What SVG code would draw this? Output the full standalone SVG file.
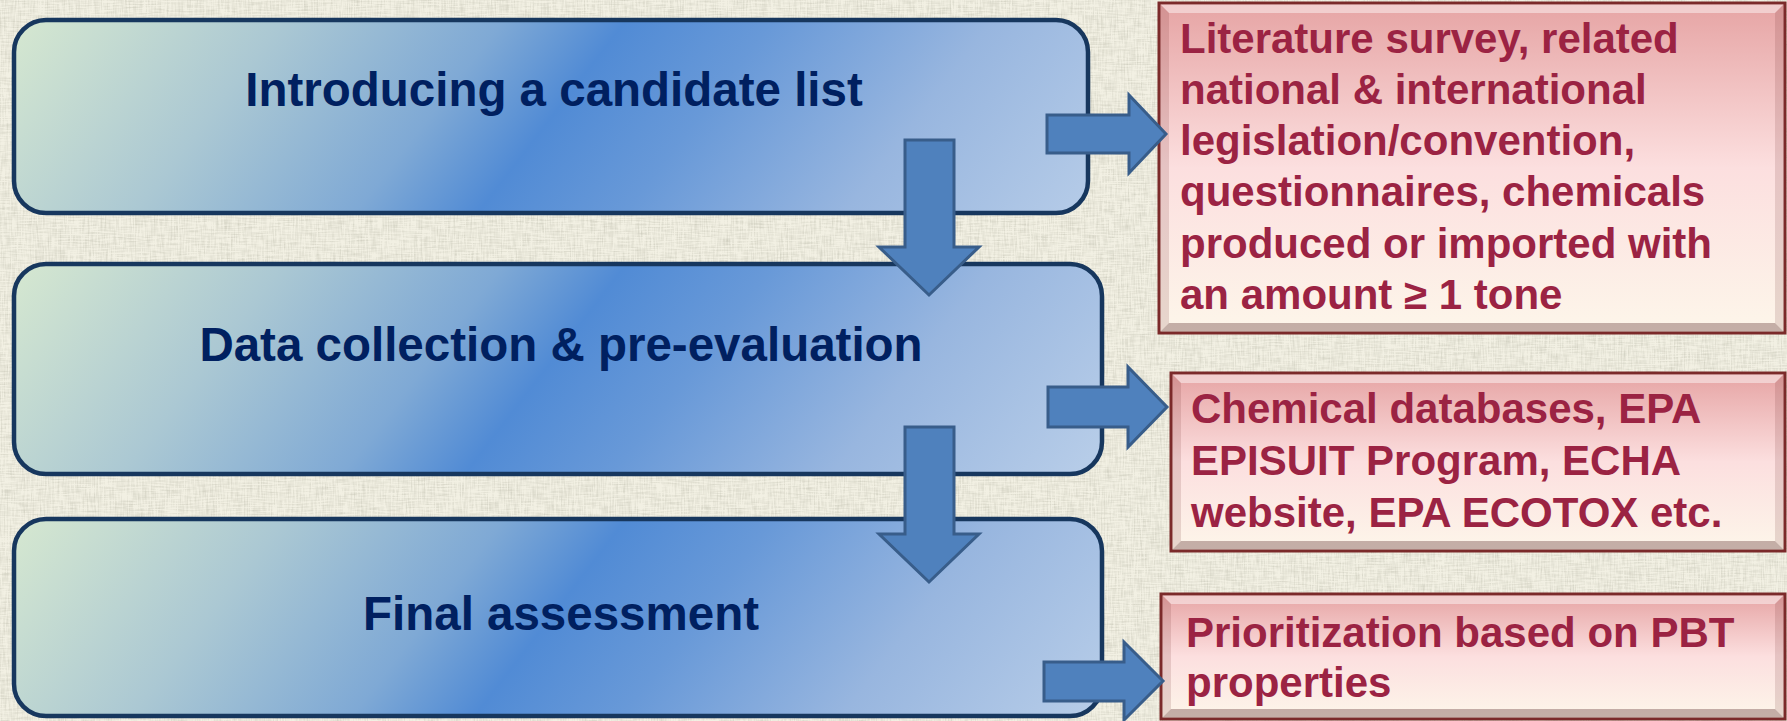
<svg xmlns="http://www.w3.org/2000/svg" width="1787" height="721" viewBox="0 0 1787 721">
  <defs>
    <style>
      .step { stroke: #17375e; stroke-width: 4.5; }
      .step-label { font-family: "Liberation Sans", Arial, sans-serif; font-weight: bold; font-size: 47.5px; fill: #002060; text-anchor: middle; }
      .note-box { stroke: #7b2a2a; stroke-width: 3; }
      .note-text { font-family: "Liberation Sans", Arial, sans-serif; font-weight: bold; font-size: 42px; fill: #9b2343; }
      .arrow { fill: #4f81bd; stroke: #385d8a; stroke-width: 3; stroke-linejoin: miter; }
      .bevel-top { fill: #ffffff; opacity: 0.45; }
      .bevel-bottom { fill: #5a2a2a; opacity: 0.35; }
      .bevel-side { fill: #6a2a2a; opacity: 0.15; }
    </style>

    <!-- linen-like background weave -->
    <filter id="linen" x="0" y="0" width="100%" height="100%" color-interpolation-filters="sRGB">
      <feTurbulence type="fractalNoise" baseFrequency="0.7 0.06" numOctaves="2" seed="3" result="n1"/>
      <feTurbulence type="fractalNoise" baseFrequency="0.06 0.7" numOctaves="2" seed="11" result="n2"/>
      <feComposite in="n1" in2="n2" operator="arithmetic" k2="0.5" k3="0.5" result="n"/>
      <feColorMatrix in="n" type="matrix" values="0 0 0 0 0.62  0 0 0 0 0.62  0 0 0 0 0.55  0.9 0 0 0 -0.36" result="tint"/>
      <feComposite in="tint" in2="SourceGraphic" operator="over"/>
    </filter>

    <!-- step box fill: pale green-grey to a broad strong-blue band to light blue -->
    <linearGradient id="stepFill1" gradientUnits="userSpaceOnUse" x1="14" y1="20" x2="783" y2="612">
      <stop offset="0" stop-color="#d6e8d0"/>
      <stop offset="0.22" stop-color="#abc8d3"/>
      <stop offset="0.4" stop-color="#7fa9d5"/>
      <stop offset="0.5" stop-color="#518bd5"/>
      <stop offset="0.62" stop-color="#6899d8"/>
      <stop offset="0.8" stop-color="#98b6df"/>
      <stop offset="1" stop-color="#b6cce8"/>
    </linearGradient>
    <linearGradient id="stepFill2" href="#stepFill1" gradientTransform="translate(0,244)"/>
    <linearGradient id="stepFill3" href="#stepFill1" gradientTransform="translate(0,499)"/>

    <!-- note box fill: rose at top fading to cream -->
    <linearGradient id="noteFill" x1="0" y1="0" x2="0" y2="1">
      <stop offset="0" stop-color="#e6a4a4"/>
      <stop offset="0.5" stop-color="#fcdfdf"/>
      <stop offset="1" stop-color="#fdf6ea"/>
    </linearGradient>
  </defs>

  <!-- background -->
  <rect x="0" y="0" width="1787" height="721" fill="#f2f0e3" filter="url(#linen)"/>

  <!-- process steps -->
  <g id="step-introducing">
    <rect class="step" x="14" y="20" width="1074" height="193" rx="32" ry="32" fill="url(#stepFill1)"/>
    <text class="step-label" x="554" y="106">Introducing a candidate list</text>
  </g>
  <g id="step-data-collection">
    <rect class="step" x="14" y="264" width="1088" height="210" rx="32" ry="32" fill="url(#stepFill2)"/>
    <text class="step-label" x="561" y="361">Data collection &amp; pre-evaluation</text>
  </g>
  <g id="step-final">
    <rect class="step" x="14" y="519" width="1088" height="197" rx="32" ry="32" fill="url(#stepFill3)"/>
    <text class="step-label" x="561" y="630">Final assessment</text>
  </g>

  <!-- source notes -->
  <g id="note-literature">
    <rect class="note-box" x="1159" y="3" width="626" height="330" fill="url(#noteFill)"/>
    <polygon class="bevel-top" points="1160.5,4.5 1783.5,4.5 1775,13 1169,13"/>
    <polygon class="bevel-bottom" points="1160.5,331.5 1783.5,331.5 1775,323 1169,323"/>
    <polygon class="bevel-side" points="1160.5,4.5 1169,13 1169,323 1160.5,331.5"/>
    <polygon class="bevel-side" points="1783.5,4.5 1775,13 1775,323 1783.5,331.5"/>
    <text class="note-text">
      <tspan x="1180" y="53">Literature survey, related</tspan>
      <tspan x="1180" y="104">national &amp; international</tspan>
      <tspan x="1180" y="155">legislation/convention,</tspan>
      <tspan x="1180" y="206">questionnaires, chemicals</tspan>
      <tspan x="1180" y="258">produced or imported with</tspan>
      <tspan x="1180" y="309">an amount ≥ 1 tone</tspan>
    </text>
  </g>
  <g id="note-databases">
    <rect class="note-box" x="1171" y="373" width="614" height="178" fill="url(#noteFill)"/>
    <polygon class="bevel-top" points="1172.5,374.5 1783.5,374.5 1775,383 1181,383"/>
    <polygon class="bevel-bottom" points="1172.5,549.5 1783.5,549.5 1775,541 1181,541"/>
    <polygon class="bevel-side" points="1172.5,374.5 1181,383 1181,541 1172.5,549.5"/>
    <polygon class="bevel-side" points="1783.5,374.5 1775,383 1775,541 1783.5,549.5"/>
    <text class="note-text">
      <tspan x="1191" y="423">Chemical databases, EPA</tspan>
      <tspan x="1191" y="475">EPISUIT Program, ECHA</tspan>
      <tspan x="1191" y="527">website, EPA ECOTOX etc.</tspan>
    </text>
  </g>
  <g id="note-prioritization">
    <rect class="note-box" x="1161" y="594" width="624" height="125" fill="url(#noteFill)"/>
    <polygon class="bevel-top" points="1162.5,595.5 1783.5,595.5 1775,604 1171,604"/>
    <polygon class="bevel-bottom" points="1162.5,717.5 1783.5,717.5 1775,709 1171,709"/>
    <polygon class="bevel-side" points="1162.5,595.5 1171,604 1171,709 1162.5,717.5"/>
    <polygon class="bevel-side" points="1783.5,595.5 1775,604 1775,709 1783.5,717.5"/>
    <text class="note-text">
      <tspan x="1186" y="647">Prioritization based on PBT</tspan>
      <tspan x="1186" y="697">properties</tspan>
    </text>
  </g>

  <!-- connectors -->
  <g id="connectors">
    <polygon class="arrow" points="905,140 954,140 954,247 979,247 929,295 879,247 905,247"/>
    <polygon class="arrow" points="905,427 954,427 954,534 979,534 929,582 879,534 905,534"/>
    <polygon class="arrow" points="1047,115 1129,115 1129,95 1166,134 1129,173 1129,153 1047,153"/>
    <polygon class="arrow" points="1048,387 1128,387 1128,367 1167,407 1128,447 1128,427 1048,427"/>
    <polygon class="arrow" points="1044,662 1124,662 1124,642 1163,681 1124,720 1124,701 1044,701"/>
  </g>
</svg>
